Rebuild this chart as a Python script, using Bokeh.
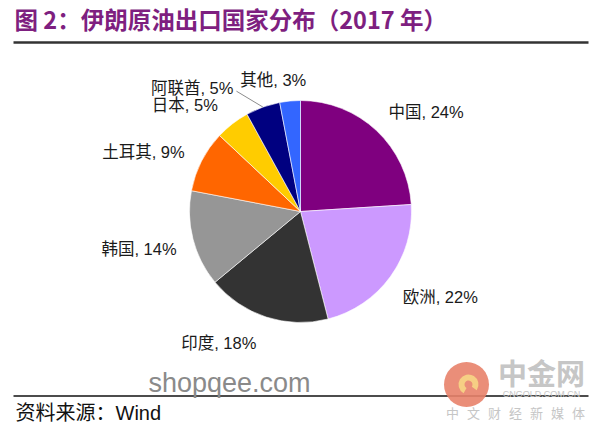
import numpy as np
from bokeh.plotting import figure
from bokeh.models import Range1d, ColumnDataSource
from bokeh.core.properties import value
from bokeh.embed import file_html
from bokeh.resources import INLINE

# ---- data ----
countries = ["中国", "欧洲", "印度", "韩国", "土耳其", "日本", "阿联酋", "其他"]
shares = [24, 22, 18, 14, 9, 5, 5, 3]
colors = ["#7F007F", "#CC99FF", "#333333", "#969696", "#FF6600", "#FFCC00", "#000080", "#3366FF"]
title_text = "图 2：伊朗原油出口国家分布（2017 年）"
source_text = "资料来源：Wind"

# ---- layout ----
W, H = 600, 428
def X(x): return x
def Y(y): return H - y

FONT = value("Liberation Sans, Noto Sans CJK SC")
CJK = value("Noto Sans CJK SC")

p = figure(width=W, height=H, x_range=Range1d(0, W), y_range=Range1d(0, H),
           output_backend="svg", toolbar_location=None, min_border=0)
p.axis.visible = False
p.grid.visible = False
p.outline_line_color = None
p.background_fill_color = "white"

cx, cy, r = 300, 211, 111
fr = np.array(shares, dtype=float) / sum(shares)
cum_end = np.cumsum(fr)
cum_start = cum_end - fr
start = np.pi / 2 - 2 * np.pi * cum_end
end = np.pi / 2 - 2 * np.pi * cum_start
src = ColumnDataSource(dict(x=[X(cx)] * len(shares), y=[Y(cy)] * len(shares),
                            start=start, end=end, color=colors))
p.wedge(x="x", y="y", radius=r, start_angle="start", end_angle="end",
        fill_color="color", line_color="white", line_width=0.6, source=src)

# labels (placed around the pie at the slice mid-angle, with small nudges)
theta = 2 * np.pi * (cum_start + fr / 2)  # clockwise from top
R = 130
nudge = {"中国": (-1, -5, None), "欧洲": (-3, 9, None), "印度": (-4, 8, None),
         "韩国": (2, 5, None), "日本": (-3, -4, None),
         "阿联酋": (-23, -1, "right"), "其他": (-15, -2, "center")}
lx, ly, la, lt = [], [], [], []
for name, s, t in zip(countries, shares, theta):
    x = cx + R * np.sin(t)
    y = cy - R * np.cos(t)
    al = "left" if np.sin(t) > 0 else "right"
    if name in nudge:
        dx, dy, a2 = nudge[name]
        x += dx; y += dy
        al = a2 or al
    if name == "阿联酋":
        ex = cx + r * np.sin(t); ey = cy - r * np.cos(t)
        p.line([X(x + 3), X(ex)], [Y(y + 3), Y(ey)], line_color="#8c8c8c", line_width=1)
    lx.append(X(x)); ly.append(Y(y)); la.append(al); lt.append(f"{name}, {s}%")
for x, y, a, t in zip(lx, ly, la, lt):
    p.text([x], [y], text=[t], text_align=a, text_baseline="middle",
           text_font=FONT, text_font_size="16.5px", text_color="#1a1a1a")

# title and rules
p.text([X(14)], [Y(18)], text=[title_text], text_align="left", text_baseline="middle",
       text_font=CJK, text_font_size="23.5px", text_font_style="bold", text_color="#7E1F80")
p.line([X(13), X(588)], [Y(42), Y(42)], line_color="#333333", line_width=2.5)
p.line([X(13), X(588)], [Y(395.5), Y(395.5)], line_color="#111111", line_width=1.5)
p.text([X(15)], [Y(412)], text=[source_text], text_align="left", text_baseline="middle",
       text_font=FONT, text_font_size="20px", text_color="#111111")

# watermarks
p.text([X(148)], [Y(382)], text=["shopqee.com"], text_align="left", text_baseline="middle",
       text_font=value("Liberation Sans"), text_font_size="27px", text_color="#8a8a8a")
p.scatter([X(466)], [Y(384)], size=45, marker="circle", fill_color="#E8826A",
          line_color=None, fill_alpha=0.9)
p.annular_wedge([X(468)], [Y(384)], inner_radius=4, outer_radius=10, start_angle=-0.6,
                end_angle=4.2, fill_color="#F6CF84", line_color=None)
p.text([X(541)], [Y(371)], text=["中金网"], text_align="center", text_baseline="middle",
       text_font=CJK, text_font_size="29px", text_font_style="bold", text_color="#c6c6c6")
p.text([X(541)], [Y(393)], text=["CNGOLD.COM.CN"], text_align="center", text_baseline="middle",
       text_font=value("Liberation Sans"), text_font_size="9px", text_color="#c6c6c6")
slogan = list("中文财经新媒体")
p.text([X(452 + 21 * i) for i in range(len(slogan))], [Y(412)] * len(slogan), text=slogan,
       text_align="center", text_baseline="middle",
       text_font=CJK, text_font_size="13px", text_color="#c6c6c6")

open("out.html", "w").write(file_html(p, INLINE))
